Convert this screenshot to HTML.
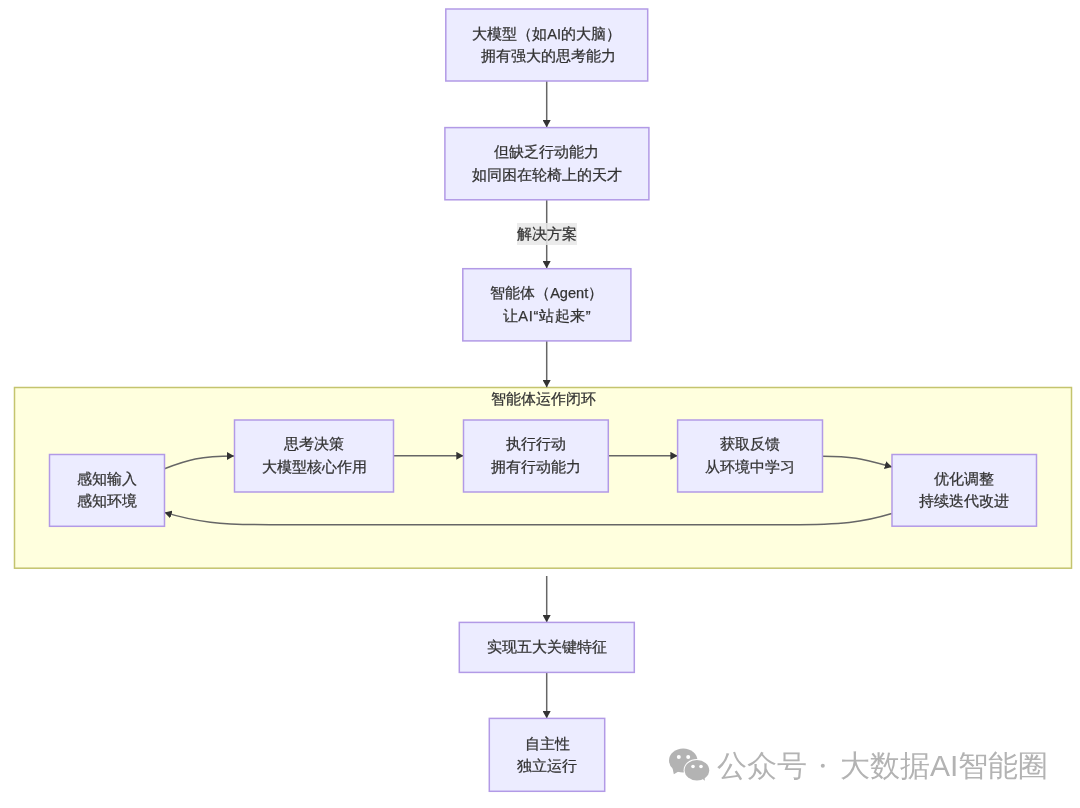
<!DOCTYPE html>
<html><head><meta charset="utf-8">
<style>
html,body{margin:0;padding:0;background:#fff;width:1080px;height:808px;overflow:hidden;}
svg{display:block;will-change:transform;}
text{font-family:"Liberation Sans",sans-serif;font-size:14.6px;fill:#333;stroke:#333;stroke-width:0.25px;}
.n{fill:#ECECFF;stroke:#B29AE6;stroke-width:1.5;}
.e{fill:none;stroke:#666;stroke-width:1.5;}
.wm{fill:#b3b3b3;font-size:30px;stroke:none;}
</style></head>
<body>
<svg width="1080" height="808" viewBox="0 0 1080 808">
<defs>
<marker id="ah" viewBox="0 0 10 10" refX="10" refY="5" markerUnits="userSpaceOnUse" markerWidth="7.2" markerHeight="8" orient="auto" preserveAspectRatio="none">
<path d="M0,0 L10,5 L0,10 z" fill="#333"/>
</marker>
</defs>

<!-- subgraph -->
<rect x="14.5" y="387.5" width="1057" height="180.7" fill="#FFFFDE" stroke="#C4C46E" stroke-width="1.5"/>
<text x="543.4" y="403.6" text-anchor="middle">智能体运作闭环</text>

<!-- vertical edges -->
<path class="e" d="M546.7,81 L546.7,127.3" marker-end="url(#ah)"/>
<path class="e" d="M546.7,200 L546.7,268.3" marker-end="url(#ah)"/>
<path class="e" d="M546.7,341 L546.7,387.3" marker-end="url(#ah)"/>
<path class="e" d="M546.7,576 L546.7,622.3" marker-end="url(#ah)"/>
<path class="e" d="M546.7,672.5 L546.7,718.3" marker-end="url(#ah)"/>

<!-- edge label -->
<rect x="517" y="223" width="60" height="22" fill="rgba(232,232,232,0.85)"/>
<text x="547" y="239.4" text-anchor="middle">解决方案</text>

<!-- loop edges -->
<path class="e" d="M164.5,468.7 C188,460 200,456 234,456" marker-end="url(#ah)"/>
<path class="e" d="M393.5,455.8 L463.5,455.8" marker-end="url(#ah)"/>
<path class="e" d="M608.3,455.8 L677.6,455.8" marker-end="url(#ah)"/>
<path class="e" d="M822.5,456.3 C854,456.3 862,459 892,467" marker-end="url(#ah)"/>
<path class="e" d="M891.8,513.5 C862,522.5 842,524.7 790,524.7 L270,524.7 C220,524.7 196,522 164.5,512.4" marker-end="url(#ah)"/>

<!-- nodes -->
<rect class="n" x="445.8" y="9" width="201.9" height="72"/>
<text x="546.6" y="39" text-anchor="middle">大模型（如AI的大脑）</text>
<text x="548.1" y="60.8" text-anchor="middle">拥有强大的思考能力</text>

<rect class="n" x="444.9" y="127.6" width="204" height="72.2"/>
<text x="546.9" y="157.3" text-anchor="middle">但缺乏行动能力</text>
<text x="546.9" y="179.8" text-anchor="middle">如同困在轮椅上的天才</text>

<rect class="n" x="462.8" y="268.7" width="168.1" height="72.2"/>
<text x="546.7" y="298.3" text-anchor="middle">智能体（Agent）</text>
<text x="546.7" y="320.8" text-anchor="middle" textLength="88" lengthAdjust="spacing">让AI“站起来”</text>

<rect class="n" x="49.5" y="454.5" width="115" height="71.8"/>
<text x="107" y="483.7" text-anchor="middle">感知输入</text>
<text x="107" y="506.4" text-anchor="middle">感知环境</text>

<rect class="n" x="234.5" y="420" width="159" height="72"/>
<text x="314" y="449.3" text-anchor="middle">思考决策</text>
<text x="314" y="471.6" text-anchor="middle">大模型核心作用</text>

<rect class="n" x="463.5" y="420" width="144.8" height="72"/>
<text x="535.9" y="449.3" text-anchor="middle">执行行动</text>
<text x="535.9" y="471.6" text-anchor="middle">拥有行动能力</text>

<rect class="n" x="677.6" y="420" width="144.9" height="72"/>
<text x="750" y="449.3" text-anchor="middle">获取反馈</text>
<text x="750" y="471.6" text-anchor="middle">从环境中学习</text>

<rect class="n" x="892" y="454.5" width="144.5" height="71.7"/>
<text x="964.2" y="483.7" text-anchor="middle">优化调整</text>
<text x="964.2" y="506.4" text-anchor="middle">持续迭代改进</text>

<rect class="n" x="459.3" y="622.4" width="175" height="50"/>
<text x="546.8" y="652.3" text-anchor="middle">实现五大关键特征</text>

<rect class="n" x="489.3" y="718.4" width="115.4" height="72.9"/>
<text x="547" y="749" text-anchor="middle">自主性</text>
<text x="547" y="770.9" text-anchor="middle">独立运行</text>

<!-- watermark -->
<g fill="#b3b3b3">
<ellipse cx="683.2" cy="760.6" rx="14.2" ry="12"/>
<path d="M672.5,768 L673.8,774.2 L681,770 z"/>
<ellipse cx="696.9" cy="770.2" rx="13.3" ry="11.3" fill="#fff"/>
<ellipse cx="696.9" cy="770.2" rx="12.3" ry="10.2"/>
<path d="M700,777 L704.9,780.7 L704.3,773 z"/>
<g fill="#fff">
<circle cx="678.8" cy="757" r="2"/>
<circle cx="688.2" cy="757" r="2"/>
<circle cx="693" cy="766.5" r="1.8"/>
<circle cx="701" cy="766.5" r="1.8"/>
</g>
<circle cx="822.8" cy="765.8" r="2"/>
</g>
<text class="wm" x="716.5" y="776">公众号</text>
<text class="wm" x="840" y="776">大数据AI智能圈</text>
</svg>
</body></html>
